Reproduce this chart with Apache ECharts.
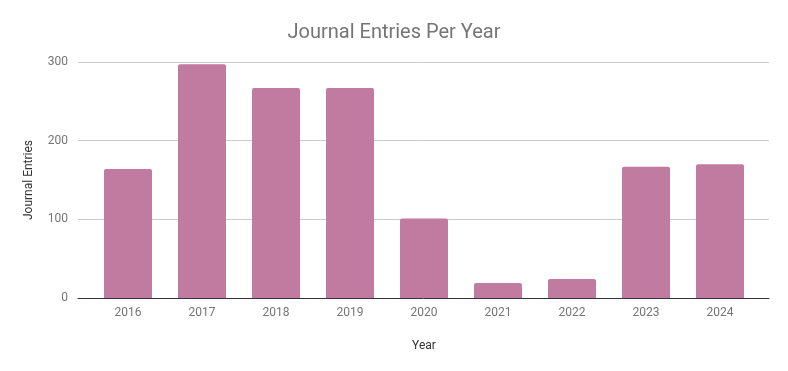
<!DOCTYPE html>
<html>
<head>
<meta charset="utf-8">
<script src="https://cdn.jsdelivr.net/npm/echarts@6/dist/echarts.min.js"></script>
<style>
html,body{margin:0;padding:0;background:#fff;}
#chart{width:788px;height:371px;}
</style>
</head>
<body>
<div id="chart"></div>
<script>
const years = ['2016','2017','2018','2019','2020','2021','2022','2023','2024'];
const entries = [164, 297, 267, 267, 101, 19, 24, 167, 170];
const yTicks = { min: 0, max: 300, interval: 100 };
const titleText = 'Journal Entries Per Year';
const xTitle = 'Year';
const yTitle = 'Journal Entries';

const font = 'Roboto, "Noto Sans", sans-serif';
const chart = echarts.init(document.getElementById('chart'), null, {renderer: 'canvas'});
chart.setOption({
  animation: false,
  backgroundColor: '#ffffff',
  title: {
    text: titleText,
    left: 'center',
    top: 18,
    textStyle: {fontFamily: font, fontSize: 20, fontWeight: 'normal', color: '#757575'}
  },
  grid: [
    {left: 78, right: 19, top: 62, bottom: 73, containLabel: false},
    {left: 91, right: 31, top: 62, bottom: 73, containLabel: false}
  ],
  xAxis: [
    {
      type: 'category', gridIndex: 0, data: years, z: 10,
      axisLine: {show: true, lineStyle: {color: '#333333', width: 1}},
      axisTick: {show: false}, axisLabel: {show: false}, splitLine: {show: false}
    },
    {
      type: 'category', gridIndex: 1, data: years,
      axisLine: {show: false}, axisTick: {show: false},
      axisLabel: {margin: 9, fontFamily: font, fontSize: 12, color: '#757575'},
      name: xTitle, nameLocation: 'middle', nameGap: 42,
      nameTextStyle: {fontFamily: font, fontSize: 12, color: '#333333'}
    }
  ],
  yAxis: [
    {
      type: 'value', gridIndex: 0, min: yTicks.min, max: yTicks.max, interval: yTicks.interval,
      axisLine: {show: false}, axisTick: {show: false},
      axisLabel: {margin: 10, fontFamily: font, fontSize: 12, color: '#757575'},
      splitLine: {show: true, lineStyle: {color: '#cccccc', width: 1}},
      name: yTitle, nameLocation: 'middle', nameGap: 43, nameRotate: 90,
      nameTextStyle: {fontFamily: font, fontSize: 12, color: '#333333'}
    },
    {
      type: 'value', gridIndex: 1, min: yTicks.min, max: yTicks.max, interval: yTicks.interval,
      show: false
    }
  ],
  series: [{
    type: 'bar', xAxisIndex: 1, yAxisIndex: 1, data: entries,
    barWidth: 48,
    itemStyle: {color: '#c27ba0', borderRadius: [2, 2, 0, 0]}
  }]
});
</script>
</body>
</html>
